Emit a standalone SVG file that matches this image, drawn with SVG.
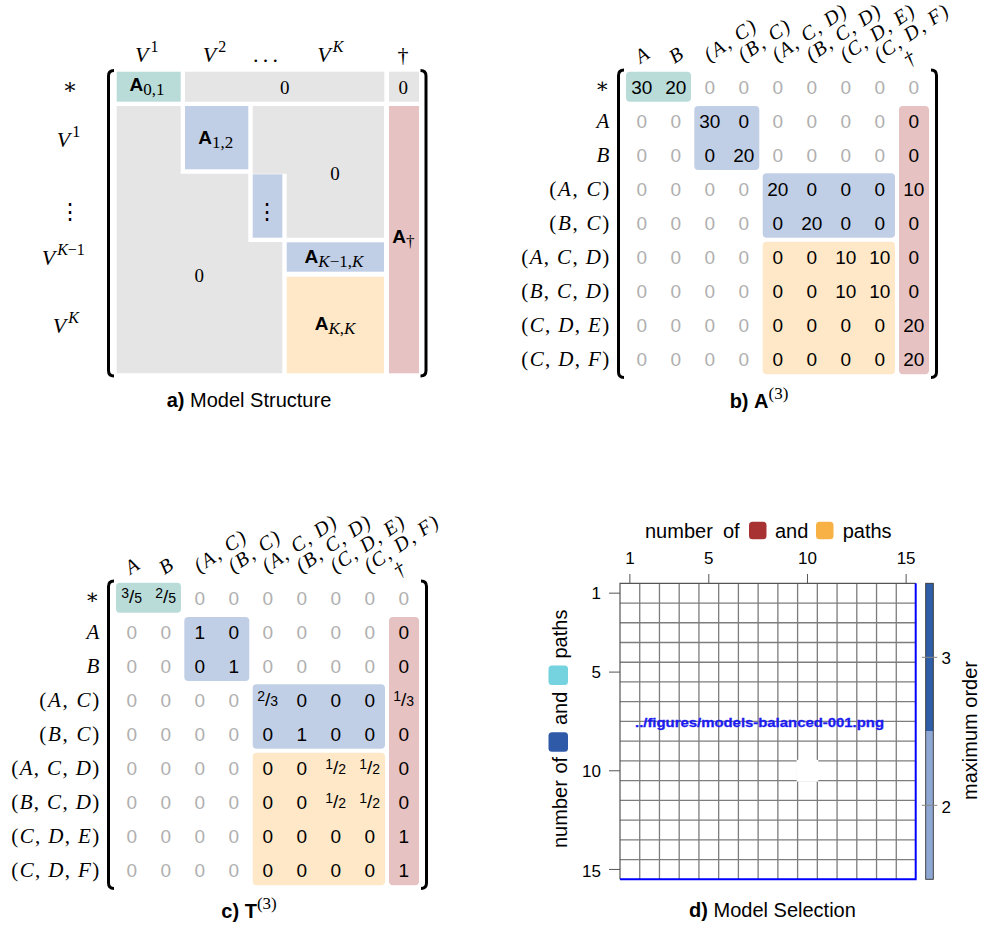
<svg xmlns="http://www.w3.org/2000/svg" width="981" height="930" viewBox="0 0 981 930">
<style>
text{font-family:"Liberation Sans",Arial,sans-serif;fill:#000}
.m{font-family:"Liberation Serif","DejaVu Serif","Times New Roman",serif;font-size:22px}
.z{font-family:"Liberation Serif","DejaVu Serif",serif;font-size:19px;text-anchor:middle}
.i{font-style:italic}
.sup{font-size:16px}
.bA{font-family:"Liberation Sans",Arial,sans-serif;font-weight:bold;font-size:19px}
.sub{font-family:"Liberation Serif","DejaVu Serif",serif;font-size:17px;font-weight:normal}
.num{font-size:19px;text-anchor:middle}
.g{fill:#b0b0b0}
.s{font-size:14px}
.br{fill:none;stroke:#000;stroke-width:3}
.cap{font-size:20px;text-anchor:middle}
.bd{font-weight:bold}
.rl{font-family:"Liberation Serif","DejaVu Serif",serif;font-size:21px;text-anchor:end}
.cl{font-family:"Liberation Serif","DejaVu Serif",serif;font-size:20px;font-style:italic}
.teal{fill:#b9dcd9}.blue{fill:#c1cfe6}.orng{fill:#fee8c7}.red{fill:#e6c2c2}.gray{fill:#e5e5e5}
.grid{stroke:#7d7d7d;stroke-width:1.3;fill:none}
.tick{stroke:#555;stroke-width:1}
.tl{font-size:17px}
.al{font-size:20px}
</style>

<!-- ============ Panel a ============ -->
<g id="panel-a">
  <g id="a-blocks">
    <rect class="teal" x="116.7" y="71.7" width="64" height="30"/>
    <rect class="gray" x="185" y="71.7" width="199.3" height="30"/>
    <rect class="gray" x="389" y="71.7" width="30" height="30"/>
    <polygon class="gray" points="116.7,106 180.7,106 180.7,173.7 248.3,173.7 248.3,242 282.3,242 282.3,373.3 116.7,373.3"/>
    <polygon class="gray" points="252.7,106 384,106 384,237.7 286.7,237.7 286.7,173.7 252.7,173.7"/>
    <rect class="blue" x="185" y="106" width="63.3" height="63.3"/>
    <rect class="blue" x="252.7" y="174.3" width="29.6" height="63.4"/>
    <rect class="blue" x="286.7" y="242.3" width="97.3" height="29.4"/>
    <rect class="orng" x="286.7" y="276.7" width="97.3" height="96.6"/>
    <rect class="red" x="389" y="106" width="30" height="267.3"/>
  </g>
  <g id="a-brackets">
    <path class="br" d="M114,70.5 Q108.5,70.5 108.5,76 V370.5 Q108.5,376 114,376"/>
    <path class="br" d="M420.5,70.5 Q426,70.5 426,76 V370.5 Q426,376 420.5,376"/>
  </g>
  <g id="a-header">
    <text class="m" y="62"><tspan class="i" x="135">V</tspan><tspan class="sup" dx="2" dy="-10">1</tspan></text>
    <text class="m" y="62"><tspan class="i" x="202.7">V</tspan><tspan class="sup" dx="2" dy="-10">2</tspan></text>
    <text class="m" x="253" y="62" textLength="25" lengthAdjust="spacing">...</text>
    <text class="m" y="62"><tspan class="i" x="317.3">V</tspan><tspan class="sup i" dx="2" dy="-10">K</tspan></text>
    <text class="m" x="403" y="62" text-anchor="middle">†</text>
  </g>
  <g id="a-rows">
    <text class="m" x="70" y="94" text-anchor="middle">∗</text>
    <text class="m" y="146.7"><tspan class="i" x="56.7">V</tspan><tspan class="sup" dx="2" dy="-10">1</tspan></text>
    <text class="m" x="70" y="219" text-anchor="middle" font-size="24">⋮</text>
    <text class="m" y="265"><tspan class="i" x="41.7">V</tspan><tspan class="sup" dx="2" dy="-10"><tspan class="i">K</tspan>−1</tspan></text>
    <text class="m" y="333.3"><tspan class="i" x="52.7">V</tspan><tspan class="sup i" dx="2" dy="-10">K</tspan></text>
  </g>
  <g id="a-labels">
    <text x="147" y="90.5" text-anchor="middle"><tspan class="bA">A</tspan><tspan class="sub" dy="4">0,1</tspan></text>
    <text x="215.7" y="144" text-anchor="middle"><tspan class="bA">A</tspan><tspan class="sub" dy="4">1,2</tspan></text>
    <text class="m" x="267.3" y="219" text-anchor="middle" font-size="24">⋮</text>
    <text x="334" y="262.7" text-anchor="middle"><tspan class="bA">A</tspan><tspan class="sub" dy="4"><tspan class="i">K</tspan>−1,<tspan class="i">K</tspan></tspan></text>
    <text x="335" y="330" text-anchor="middle"><tspan class="bA">A</tspan><tspan class="sub" dy="4"><tspan class="i">K</tspan>,<tspan class="i">K</tspan></tspan></text>
    <text x="403.3" y="243" text-anchor="middle"><tspan class="bA">A</tspan><tspan class="sub" dy="4">†</tspan></text>
    <text class="z" x="284.7" y="94.3">0</text>
    <text class="z" x="403.3" y="94.3">0</text>
    <text class="z" x="335" y="180">0</text>
    <text class="z" x="199.3" y="281.7">0</text>
  </g>
  <text class="cap" x="249" y="406.5"><tspan class="bd">a)</tspan> Model Structure</text>
</g>

<!-- ============ Panel b ============ -->
<g id="panel-b">
  <g id="b-blocks">
    <rect class="teal" x="626" y="71.7" width="65" height="30" rx="4"/>
    <rect class="blue" x="694.3" y="106" width="65" height="64" rx="4"/>
    <rect class="blue" x="762.7" y="173.3" width="132.3" height="64.4" rx="4"/>
    <rect class="orng" x="762.7" y="241.7" width="132.3" height="132.6" rx="4"/>
    <rect class="red" x="899" y="106" width="30" height="268.3" rx="4"/>
  </g>
  <g id="b-brackets">
    <path class="br" d="M624,70 Q618.5,70 618.5,75.5 V372 Q618.5,377.5 624,377.5"/>
    <path class="br" d="M931,70 Q936.5,70 936.5,75.5 V372 Q936.5,377.5 931,377.5"/>
  </g>
  <g id="b-collabels">
    <text class="cl" transform="translate(640.5 64) rotate(-34)">A</text>
    <text class="cl" transform="translate(674.5 64) rotate(-34)">B</text>
    <text class="cl" transform="translate(709.5 62) rotate(-34)" textLength="58" lengthAdjust="spacing">(A, C)</text>
    <text class="cl" transform="translate(743.5 62) rotate(-34)" textLength="58" lengthAdjust="spacing">(B, C)</text>
    <text class="cl" transform="translate(777.5 62) rotate(-34)" textLength="85" lengthAdjust="spacing">(A, C, D)</text>
    <text class="cl" transform="translate(811.5 62) rotate(-34)" textLength="85" lengthAdjust="spacing">(B, C, D)</text>
    <text class="cl" transform="translate(845.5 62) rotate(-34)" textLength="85" lengthAdjust="spacing">(C, D, E)</text>
    <text class="cl" transform="translate(879.5 62) rotate(-34)" textLength="85" lengthAdjust="spacing">(C, D, F)</text>
    <text class="cl" transform="translate(909 67) rotate(-34)" font-style="normal">†</text>
  </g>
  <g id="b-rowlabels">
    <text class="rl" x="609.3" y="93">∗</text>
    <text class="rl" x="609.3" y="128"><tspan class="i">A</tspan></text>
    <text class="rl" x="609.3" y="162"><tspan class="i">B</tspan></text>
    <text class="rl" x="609.3" y="196" textLength="60" lengthAdjust="spacing">(<tspan class="i">A</tspan>, <tspan class="i">C</tspan>)</text>
    <text class="rl" x="609.3" y="230" textLength="60" lengthAdjust="spacing">(<tspan class="i">B</tspan>, <tspan class="i">C</tspan>)</text>
    <text class="rl" x="609.3" y="264" textLength="88" lengthAdjust="spacing">(<tspan class="i">A</tspan>, <tspan class="i">C</tspan>, <tspan class="i">D</tspan>)</text>
    <text class="rl" x="609.3" y="298" textLength="88" lengthAdjust="spacing">(<tspan class="i">B</tspan>, <tspan class="i">C</tspan>, <tspan class="i">D</tspan>)</text>
    <text class="rl" x="609.3" y="332" textLength="88" lengthAdjust="spacing">(<tspan class="i">C</tspan>, <tspan class="i">D</tspan>, <tspan class="i">E</tspan>)</text>
    <text class="rl" x="609.3" y="366" textLength="88" lengthAdjust="spacing">(<tspan class="i">C</tspan>, <tspan class="i">D</tspan>, <tspan class="i">F</tspan>)</text>
  </g>
  <g id="b-values" class="num">
    <text x="641.7" y="93.9">30</text><text x="675.7" y="93.9">20</text>
    <text class="g" x="709.7 743.7 777.7 811.7 845.7 879.7 913.7" y="93.9">0000000</text>

    <text class="g" x="641.7 675.7 777.7 811.7 845.7 879.7" y="128">000000</text>
    <text x="709.7" y="128">30</text><text x="743.7 913.7" y="128">00</text>

    <text class="g" x="641.7 675.7 777.7 811.7 845.7 879.7" y="162">000000</text>
    <text x="709.7 913.7" y="162">00</text><text x="743.7" y="162">20</text>

    <text class="g" x="641.7 675.7 709.7 743.7" y="196">0000</text>
    <text x="777.7" y="196">20</text><text x="811.7 845.7 879.7" y="196">000</text><text x="913.7" y="196">10</text>

    <text class="g" x="641.7 675.7 709.7 743.7" y="230.1">0000</text>
    <text x="777.7 845.7 879.7 913.7" y="230.1">0000</text><text x="811.7" y="230.1">20</text>

    <text class="g" x="641.7 675.7 709.7 743.7" y="264.2">0000</text>
    <text x="777.7 811.7 913.7" y="264.2">000</text><text x="845.7" y="264.2">10</text><text x="879.7" y="264.2">10</text>

    <text class="g" x="641.7 675.7 709.7 743.7" y="298.2">0000</text>
    <text x="777.7 811.7 913.7" y="298.2">000</text><text x="845.7" y="298.2">10</text><text x="879.7" y="298.2">10</text>

    <text class="g" x="641.7 675.7 709.7 743.7" y="332.3">0000</text>
    <text x="777.7 811.7 845.7 879.7" y="332.3">0000</text><text x="913.7" y="332.3">20</text>

    <text class="g" x="641.7 675.7 709.7 743.7" y="366.3">0000</text>
    <text x="777.7 811.7 845.7 879.7" y="366.3">0000</text><text x="913.7" y="366.3">20</text>
  </g>
  <text class="cap" x="759" y="408"><tspan class="bd">b)</tspan> <tspan class="bd">A</tspan><tspan class="sub" dy="-9">(3)</tspan></text>
</g>

<!-- ============ Panel c ============ -->
<g id="panel-c" transform="translate(-510 511)">
  <g id="c-blocks">
    <rect class="teal" x="626" y="71.7" width="65" height="30" rx="4"/>
    <rect class="blue" x="694.3" y="106" width="65" height="64" rx="4"/>
    <rect class="blue" x="762.7" y="173.3" width="132.3" height="64.4" rx="4"/>
    <rect class="orng" x="762.7" y="241.7" width="132.3" height="132.6" rx="4"/>
    <rect class="red" x="899" y="106" width="30" height="268.3" rx="4"/>
  </g>
  <g id="c-brackets">
    <path class="br" d="M624,70 Q618.5,70 618.5,75.5 V372 Q618.5,377.5 624,377.5"/>
    <path class="br" d="M931,70 Q936.5,70 936.5,75.5 V372 Q936.5,377.5 931,377.5"/>
  </g>
  <g id="c-collabels">
    <text class="cl" transform="translate(640.5 64) rotate(-34)">A</text>
    <text class="cl" transform="translate(674.5 64) rotate(-34)">B</text>
    <text class="cl" transform="translate(709.5 62) rotate(-34)" textLength="58" lengthAdjust="spacing">(A, C)</text>
    <text class="cl" transform="translate(743.5 62) rotate(-34)" textLength="58" lengthAdjust="spacing">(B, C)</text>
    <text class="cl" transform="translate(777.5 62) rotate(-34)" textLength="85" lengthAdjust="spacing">(A, C, D)</text>
    <text class="cl" transform="translate(811.5 62) rotate(-34)" textLength="85" lengthAdjust="spacing">(B, C, D)</text>
    <text class="cl" transform="translate(845.5 62) rotate(-34)" textLength="85" lengthAdjust="spacing">(C, D, E)</text>
    <text class="cl" transform="translate(879.5 62) rotate(-34)" textLength="85" lengthAdjust="spacing">(C, D, F)</text>
    <text class="cl" transform="translate(909 67) rotate(-34)" font-style="normal">†</text>
  </g>
  <g id="c-rowlabels">
    <text class="rl" x="609.3" y="93">∗</text>
    <text class="rl" x="609.3" y="128"><tspan class="i">A</tspan></text>
    <text class="rl" x="609.3" y="162"><tspan class="i">B</tspan></text>
    <text class="rl" x="609.3" y="196" textLength="60" lengthAdjust="spacing">(<tspan class="i">A</tspan>, <tspan class="i">C</tspan>)</text>
    <text class="rl" x="609.3" y="230" textLength="60" lengthAdjust="spacing">(<tspan class="i">B</tspan>, <tspan class="i">C</tspan>)</text>
    <text class="rl" x="609.3" y="264" textLength="88" lengthAdjust="spacing">(<tspan class="i">A</tspan>, <tspan class="i">C</tspan>, <tspan class="i">D</tspan>)</text>
    <text class="rl" x="609.3" y="298" textLength="88" lengthAdjust="spacing">(<tspan class="i">B</tspan>, <tspan class="i">C</tspan>, <tspan class="i">D</tspan>)</text>
    <text class="rl" x="609.3" y="332" textLength="88" lengthAdjust="spacing">(<tspan class="i">C</tspan>, <tspan class="i">D</tspan>, <tspan class="i">E</tspan>)</text>
    <text class="rl" x="609.3" y="366" textLength="88" lengthAdjust="spacing">(<tspan class="i">C</tspan>, <tspan class="i">D</tspan>, <tspan class="i">F</tspan>)</text>
  </g>
  <g id="c-values" class="num">
    <text x="641.7" y="93.9"><tspan class="s" dy="-6.5">3</tspan><tspan dy="5">/</tspan><tspan class="s">5</tspan></text>
    <text x="675.7" y="93.9"><tspan class="s" dy="-6.5">2</tspan><tspan dy="5">/</tspan><tspan class="s">5</tspan></text>
    <text class="g" x="709.7 743.7 777.7 811.7 845.7 879.7 913.7" y="93.9">0000000</text>

    <text class="g" x="641.7 675.7 777.7 811.7 845.7 879.7" y="128">000000</text>
    <text x="709.7 743.7 913.7" y="128">100</text>

    <text class="g" x="641.7 675.7 777.7 811.7 845.7 879.7" y="162">000000</text>
    <text x="709.7 743.7 913.7" y="162">010</text>

    <text class="g" x="641.7 675.7 709.7 743.7" y="196">0000</text>
    <text x="777.7" y="196"><tspan class="s" dy="-6.5">2</tspan><tspan dy="5">/</tspan><tspan class="s">3</tspan></text>
    <text x="811.7 845.7 879.7" y="196">000</text>
    <text x="913.7" y="196"><tspan class="s" dy="-6.5">1</tspan><tspan dy="5">/</tspan><tspan class="s">3</tspan></text>

    <text class="g" x="641.7 675.7 709.7 743.7" y="230.1">0000</text>
    <text x="777.7 811.7 845.7 879.7 913.7" y="230.1">01000</text>

    <text class="g" x="641.7 675.7 709.7 743.7" y="264.2">0000</text>
    <text x="777.7 811.7 913.7" y="264.2">000</text>
    <text x="845.7" y="264.2"><tspan class="s" dy="-6.5">1</tspan><tspan dy="5">/</tspan><tspan class="s">2</tspan></text>
    <text x="879.7" y="264.2"><tspan class="s" dy="-6.5">1</tspan><tspan dy="5">/</tspan><tspan class="s">2</tspan></text>

    <text class="g" x="641.7 675.7 709.7 743.7" y="298.2">0000</text>
    <text x="777.7 811.7 913.7" y="298.2">000</text>
    <text x="845.7" y="298.2"><tspan class="s" dy="-6.5">1</tspan><tspan dy="5">/</tspan><tspan class="s">2</tspan></text>
    <text x="879.7" y="298.2"><tspan class="s" dy="-6.5">1</tspan><tspan dy="5">/</tspan><tspan class="s">2</tspan></text>

    <text class="g" x="641.7 675.7 709.7 743.7" y="332.3">0000</text>
    <text x="777.7 811.7 845.7 879.7 913.7" y="332.3">00001</text>

    <text class="g" x="641.7 675.7 709.7 743.7" y="366.3">0000</text>
    <text x="777.7 811.7 845.7 879.7 913.7" y="366.3">00001</text>
  </g>
  <text class="cap" x="759" y="407"><tspan class="bd">c)</tspan> <tspan class="bd">T</tspan><tspan class="sub" dy="-9">(3)</tspan></text>
</g>

<!-- ============ Panel d ============ -->
<g id="panel-d">
  <path class="grid" d="M639.73,583.3V879.3M659.47,583.3V879.3M679.2,583.3V879.3M698.93,583.3V879.3M718.67,583.3V879.3M738.4,583.3V879.3M758.13,583.3V879.3M777.87,583.3V879.3M797.6,583.3V879.3M817.33,583.3V879.3M837.07,583.3V879.3M856.8,583.3V879.3M876.53,583.3V879.3M896.27,583.3V879.3"/>
  <path class="grid" d="M620,603.03H915.7M620,622.77H915.7M620,642.5H915.7M620,662.23H915.7M620,681.97H915.7M620,701.7H915.7M620,721.43H915.7M620,741.17H915.7M620,760.9H915.7M620,780.63H915.7M620,800.37H915.7M620,820.1H915.7M620,839.83H915.7M620,859.57H915.7"/>
  <rect x="796.6" y="759.9" width="21.7" height="21.7" fill="#fff"/>
  <path d="M620,879.3V583.3H915.7" fill="none" stroke="#555" stroke-width="1.2"/>
  <path d="M915.7,583.3V879.3H620" fill="none" stroke="#0000ff" stroke-width="2"/>
  <text x="759.5" y="727" text-anchor="middle" font-family="DejaVu Sans, sans-serif" font-weight="bold" font-size="12.5" style="fill:#1c1cf0;stroke:#1c1cf0;stroke-width:0.3" textLength="249" lengthAdjust="spacingAndGlyphs">../figures/models-balanced-001.png</text>
  <g id="d-ticks">
    <path class="tick" d="M629.87,574V583.3M708.8,574V583.3M807.47,574V583.3M906.13,574V583.3M609,593.17H620M609,672.1H620M609,770.77H620M609,869.43H620"/>
    <g class="tl" text-anchor="middle">
      <text x="629.87" y="563.5">1</text>
      <text x="708.8" y="563.5">5</text>
      <text x="807.47" y="563.5">10</text>
      <text x="906.13" y="563.5">15</text>
    </g>
    <g class="tl" text-anchor="end">
      <text x="601" y="599.3">1</text>
      <text x="601" y="678.3">5</text>
      <text x="601" y="777.3">10</text>
      <text x="601" y="876.5">15</text>
    </g>
  </g>
  <g id="d-xlabel" class="al">
    <text x="645" y="538">number</text>
    <text x="723" y="538">of</text>
    <rect x="749" y="521.7" width="17.5" height="17.5" rx="3.5" fill="#a83232"/>
    <text x="775" y="538">and</text>
    <rect x="816" y="521.7" width="17.5" height="17.5" rx="3.5" fill="#f8b144"/>
    <text x="842.7" y="538">paths</text>
  </g>
  <g id="d-ylabel" class="al" transform="translate(567 716) rotate(-90)">
    <text x="-132" y="0">number</text>
    <text x="-57.5" y="0">of</text>
    <rect x="-35.7" y="-18.5" width="19.5" height="19.5" rx="3.5" fill="#2e5aa8"/>
    <text x="-9" y="0">and</text>
    <rect x="31" y="-18.5" width="19.5" height="19.5" rx="3.5" fill="#74d3de"/>
    <text x="57.5" y="0">paths</text>
  </g>
  <g id="d-colorbar">
    <rect x="925.7" y="583.3" width="7.6" height="147.7" fill="#2f5ea8"/>
    <rect x="925.7" y="731" width="7.6" height="148.3" fill="#8ea7d3"/>
    <rect x="925.7" y="583.3" width="7.6" height="296" fill="none" stroke="#333" stroke-width="0.9"/>
    <path d="M921.7,657.3H937.3M921.7,805.3H937.3" stroke="#888" stroke-width="1"/>
    <text class="tl" x="941.5" y="663.5">3</text>
    <text class="tl" x="941.5" y="812.5">2</text>
    <text class="al" transform="translate(977 730.5) rotate(-90)" text-anchor="middle">maximum order</text>
  </g>
  <text class="cap" x="772.5" y="917"><tspan class="bd">d)</tspan> Model Selection</text>
</g>
</svg>
